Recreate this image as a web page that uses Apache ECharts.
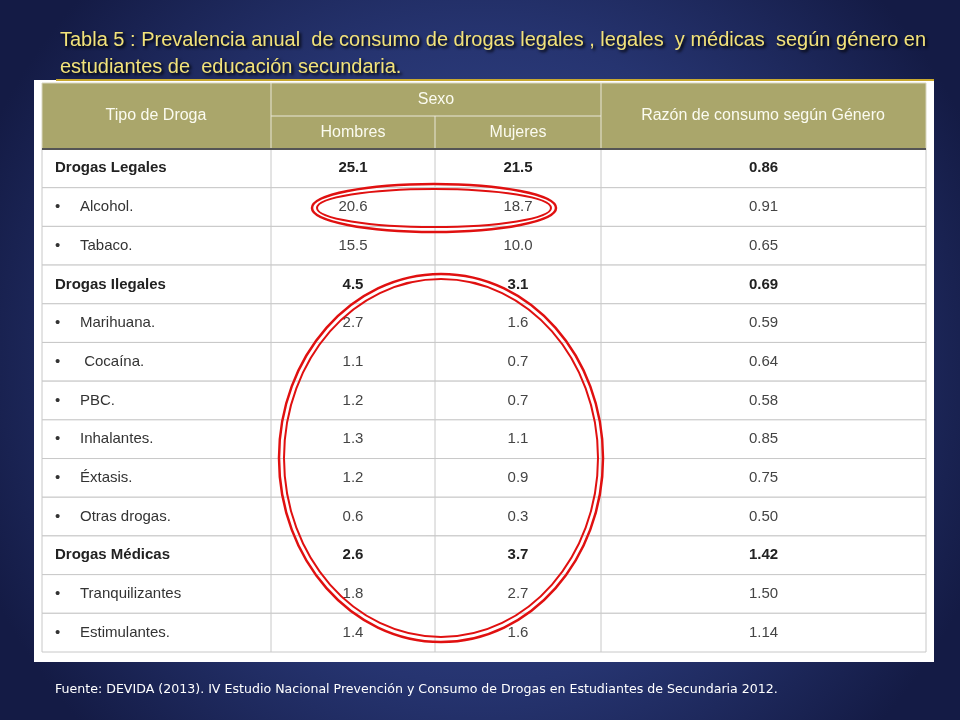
<!DOCTYPE html>
<html><head><meta charset="utf-8">
<script src="https://cdn.jsdelivr.net/npm/echarts@6/dist/echarts.min.js"></script>
<style>html,body{margin:0;padding:0;}#c{width:960px;height:720px;}</style>
</head><body><div id="c"></div>
<script>
const drugs = ["Drogas Legales","Alcohol.","Tabaco.","Drogas Ilegales","Marihuana."," Cocaína.","PBC.","Inhalantes.","Éxtasis.","Otras drogas.","Drogas Médicas","Tranquilizantes","Estimulantes."];
const isGroup = [1,0,0,1,0,0,0,0,0,0,1,0,0];
const hombres = ["25.1","20.6","15.5","4.5","2.7","1.1","1.2","1.3","1.2","0.6","2.6","1.8","1.4"];
const mujeres = ["21.5","18.7","10.0","3.1","1.6","0.7","0.7","1.1","0.9","0.3","3.7","2.7","1.6"];
const razon = ["0.86","0.91","0.65","0.69","0.59","0.64","0.58","0.85","0.75","0.50","1.42","1.50","1.14"];
const headers = ["Tipo de Droga","Sexo","Hombres","Mujeres","Razón de consumo según Género"];

const cols = [0, 229, 393, 559, 884];
const chart = echarts.init(document.getElementById('c'));
const data = drugs.map((d,i)=>[i]);
function renderItem(params, api){
  const i = api.value(0);
  const h = api.size([0,1])[1];
  const p0 = api.coord([0,i]); const yTop = p0[1]-h/2;
  const xs = cols.map(c=>api.coord([c,i])[0]);
  const g = isGroup[i];
  const font = (g?'bold ':'') + '15px "Liberation Sans", Arial, sans-serif';
  const ch = [];
  ch.push({type:'rect',shape:{x:xs[0],y:yTop,width:xs[4]-xs[0],height:h},style:{fill:'#fff',stroke:'#c8c8c8',lineWidth:1}});
  for(let k=1;k<4;k++) ch.push({type:'line',shape:{x1:xs[k],y1:yTop,x2:xs[k],y2:yTop+h},style:{stroke:'#c8c8c8',lineWidth:1}});
  if(g){
    ch.push({type:'text',style:{x:xs[0]+13,y:yTop+h/2,text:drugs[i],font:font,fill:'#222',verticalAlign:'middle'}});
  } else {
    ch.push({type:'text',style:{x:xs[0]+13,y:yTop+h/2,text:'•',font:font,fill:'#333',verticalAlign:'middle'}});
    ch.push({type:'text',style:{x:xs[0]+38,y:yTop+h/2,text:drugs[i],font:font,fill:'#333',verticalAlign:'middle'}});
  }
  const vals=[hombres[i],mujeres[i],razon[i]];
  for(let k=0;k<3;k++) ch.push({type:'text',style:{x:(xs[k+1]+xs[k+2])/2,y:yTop+h/2,text:vals[k],font:font,fill:g?'#222':'#444',align:'center',verticalAlign:'middle'}});
  return {type:'group',children:ch};
}
const hf = '16px "Liberation Sans", Arial, sans-serif';
const hc = '#fbfbf0';
function ellipse(cx,cy,rx,ry){
  return [
    {type:'ellipse',shape:{cx,cy,rx,ry},style:{fill:null,stroke:'#e01010',lineWidth:2.5},z:50},
    {type:'ellipse',shape:{cx,cy,rx:rx-5,ry:ry-5},style:{fill:null,stroke:'#e01010',lineWidth:2},z:50}
  ];
}
const tf = '20px "Liberation Sans", Arial, sans-serif';
const ts = {font:tf,fill:'#f2e27a',verticalAlign:'middle',textShadowColor:'#000',textShadowBlur:3,textShadowOffsetX:2,textShadowOffsetY:2,letterSpacing:-1};
chart.setOption({
  backgroundColor:{type:'radial',x:0.5,y:0.5,r:0.75,colorStops:[{offset:0,color:'#3b4f9a'},{offset:0.6,color:'#263470'},{offset:1,color:'#141b45'}]},
  animation:false,
  grid:{left:42,right:34,top:149,bottom:68},
  xAxis:{type:'value',min:0,max:884,show:false},
  yAxis:{type:'category',data:drugs,inverse:true,show:false},
  series:[{type:'custom',renderItem,data,z:10}],
  graphic:[
    {type:'rect',shape:{x:34,y:80,width:900,height:582},style:{fill:'#fff'},z:1},
    {type:'rect',shape:{x:42,y:83,width:884,height:66},style:{fill:'#aaa66b',stroke:'#d8d6c0'},z:2},
    {type:'line',shape:{x1:271,y1:116,x2:601,y2:116},style:{stroke:'#e8e6d8',lineWidth:1},z:3},
    {type:'line',shape:{x1:271,y1:83,x2:271,y2:149},style:{stroke:'#e8e6d8',lineWidth:1},z:3},
    {type:'line',shape:{x1:435,y1:116,x2:435,y2:149},style:{stroke:'#e8e6d8',lineWidth:1},z:3},
    {type:'line',shape:{x1:601,y1:83,x2:601,y2:149},style:{stroke:'#e8e6d8',lineWidth:1},z:3},
    {type:'line',shape:{x1:42,y1:149,x2:926,y2:149},style:{stroke:'#555',lineWidth:2},z:20},
    {type:'text',style:{x:156,y:116,text:headers[0],font:hf,fill:hc,align:'center',verticalAlign:'middle'},z:4},
    {type:'text',style:{x:436,y:100,text:headers[1],font:hf,fill:hc,align:'center',verticalAlign:'middle'},z:4},
    {type:'text',style:{x:353,y:133,text:headers[2],font:hf,fill:hc,align:'center',verticalAlign:'middle'},z:4},
    {type:'text',style:{x:518,y:133,text:headers[3],font:hf,fill:hc,align:'center',verticalAlign:'middle'},z:4},
    {type:'text',style:{x:763,y:116,text:headers[4],font:hf,fill:hc,align:'center',verticalAlign:'middle'},z:4},
    {type:'text',style:Object.assign({x:60,y:40,text:'Tabla 5 : Prevalencia anual  de consumo de drogas legales , legales  y médicas  según género en'},ts),z:5},
    {type:'text',style:Object.assign({x:60,y:67,text:'estudiantes de  educación secundaria.'},ts),z:5},
    {type:'line',shape:{x1:56,y1:80,x2:934,y2:80},style:{stroke:'#c8a830',lineWidth:2},z:4},
    {type:'text',style:{x:55,y:690,text:'Fuente: DEVIDA (2013). IV Estudio Nacional Prevención y Consumo de Drogas en Estudiantes de Secundaria 2012.',font:'12.6px "DejaVu Sans",sans-serif',fill:'#fff',verticalAlign:'middle'},z:5},
    ...ellipse(434,208,122,24),
    ...ellipse(441,458,162,184)
  ]
});
</script></body></html>
